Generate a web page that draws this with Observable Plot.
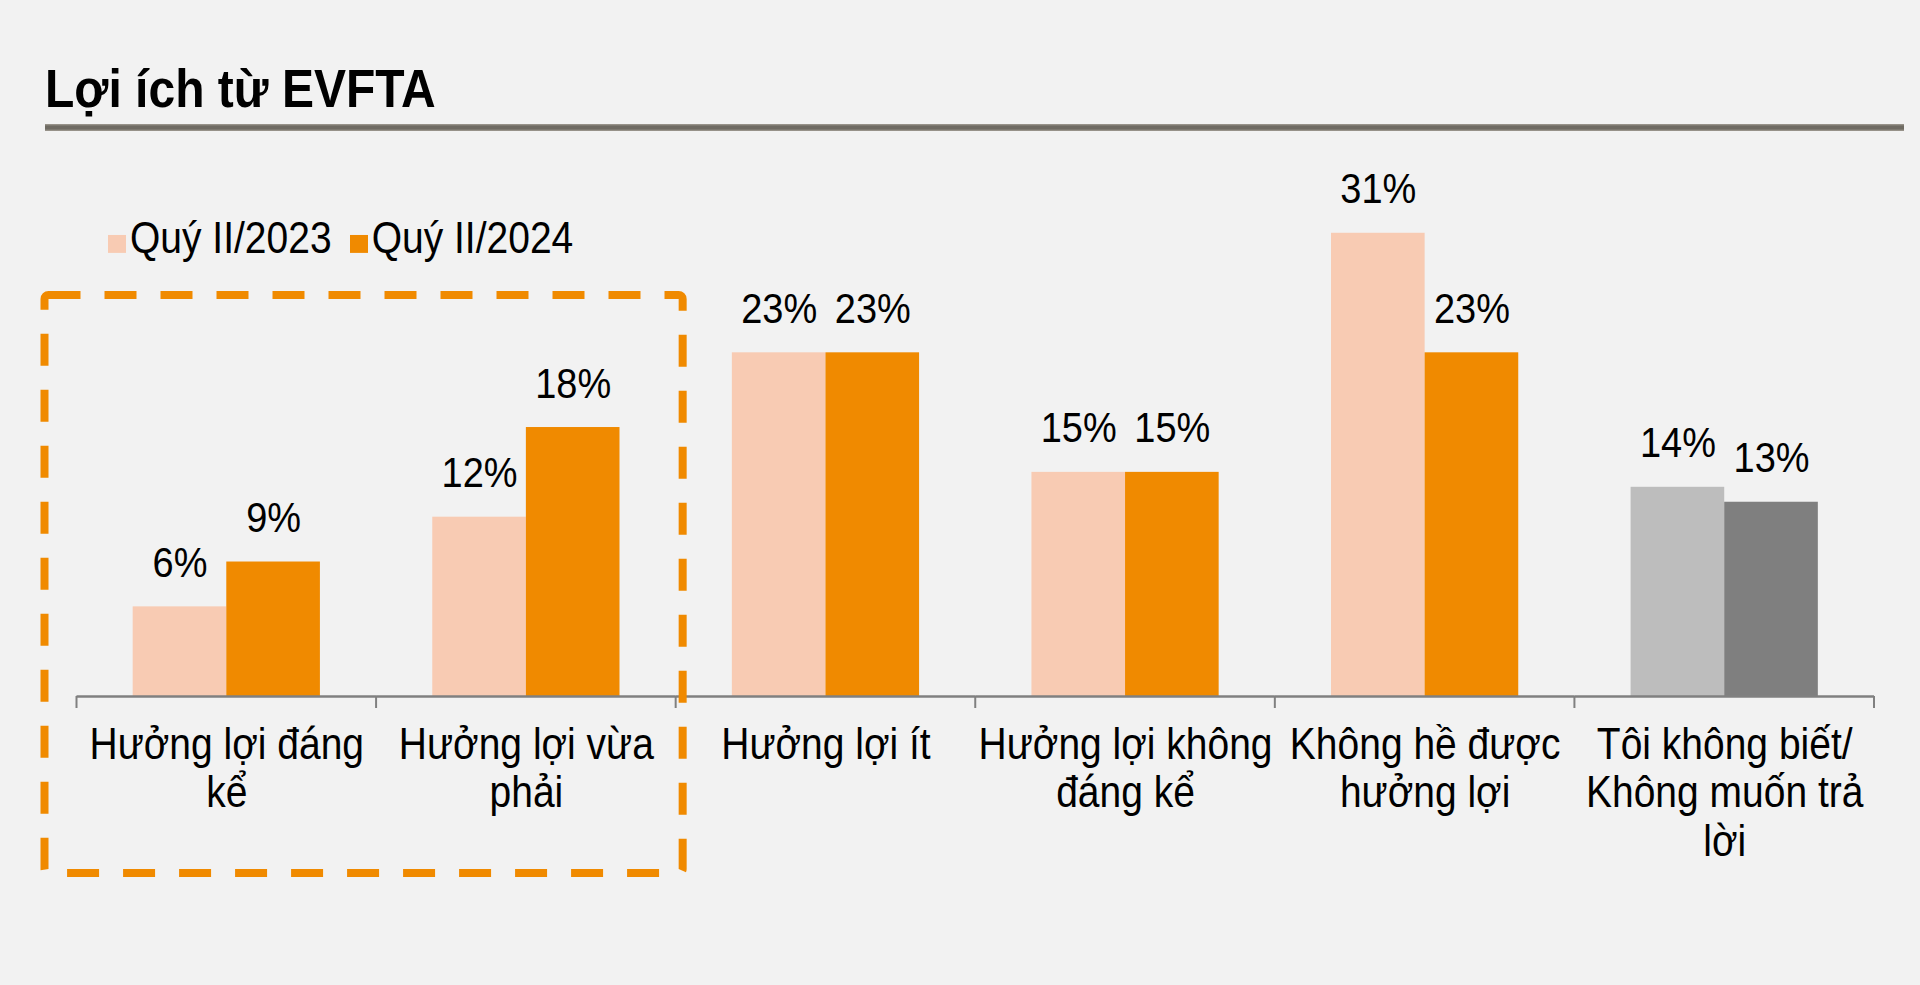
<!DOCTYPE html>
<html>
<head>
<meta charset="utf-8">
<script src="https://cdn.jsdelivr.net/npm/d3@7"></script>
<script src="https://cdn.jsdelivr.net/npm/@observablehq/plot@0.6"></script>
<style>
  html, body { margin: 0; padding: 0; background: #f2f2f2; }
  body { font-family: "Liberation Sans", Arial, sans-serif; color: #000; }
  #wrap { position: relative; width: 1920px; height: 985px; overflow: hidden; }
  #head { position: relative; height: 140px; }
  #title { position: absolute; left: 45px; top: 67px; font-size: 48px; font-weight: bold; line-height: 1; white-space: nowrap;
           transform: scaleY(1.12); transform-origin: 0 40.6px; }
  #sep { position: absolute; left: 45px; top: 124px; width: 1859px; height: 7px;
         background: linear-gradient(#a39e95, #6f6b63 30%, #6f6b63 70%, #a39e95); }
  #chart { position: relative; }
  #legend { position: absolute; left: 108px; top: 80px; font-size: 39px; line-height: 1; white-space: nowrap;
            transform: scaleY(1.12); transform-origin: 0 33.85px; }
  #legend .sw { display: inline-block; width: 18px; height: 16px; vertical-align: baseline; margin-right: 4px; }
  #legend .item + .item { margin-left: 18px; }
</style>
</head>
<body>
<div id="wrap">
  <div id="head">
    <div id="title">Lợi ích từ EVFTA</div>
    <div id="sep"></div>
  </div>
  <div id="chart"></div>
</div>
<script>
// ---- data ----
const categories = [
  "Hưởng lợi đáng\nkể",
  "Hưởng lợi vừa\nphải",
  "Hưởng lợi ít",
  "Hưởng lợi không\nđáng kể",
  "Không hề được\nhưởng lợi",
  "Tôi không biết/\nKhông muốn trả\nlời"
];
const seriesNames = ["Quý II/2023", "Quý II/2024"];
const values2023 = [6, 12, 23, 15, 31, 14];
const values2024 = [9, 18, 23, 15, 23, 13];
const highlightGroup = [0, 1]; // categories inside the dashed box

// ---- styles ----
const orangeColors = ["#f8cbb3", "#f08a00"];
const greyColors = ["#bdbdbd", "#7f7f7f"];
const greyCategory = categories[categories.length - 1];
const textStretch = 1.12; // original lettering is slightly taller than Arial

const rows = [];
categories.forEach((c, i) => {
  rows.push({cat: c, series: seriesNames[0], value: values2023[i]});
  rows.push({cat: c, series: seriesNames[1], value: values2024[i]});
});
const fillOf = d => (d.cat === greyCategory ? greyColors : orangeColors)[seriesNames.indexOf(d.series)];

const W = 1920, H = 845;
const plot = Plot.plot({
  width: W,
  height: H,
  marginLeft: 76.5,
  marginRight: 46,
  marginTop: 33,
  marginBottom: 289,
  style: {background: "transparent", fontFamily: "'Liberation Sans', Arial, sans-serif", color: "#000", overflow: "visible"},
  fx: {domain: categories, padding: 0, round: false},
  x: {domain: seriesNames, paddingInner: 0, paddingOuter: 0.6, round: false, axis: null},
  y: {domain: [0, 35], axis: null},
  marks: [
    Plot.barY(rows, {fx: "cat", x: "series", y: "value", fill: fillOf}),
    Plot.text(rows, {fx: "cat", x: "series", y: "value", text: d => d.value + "%",
      lineAnchor: "bottom", dy: -30, fontSize: 38, fill: "#000"}),
    Plot.ruleY([0], {stroke: "#808080", strokeWidth: 2.5}),
    Plot.axisFx({anchor: "bottom", tickSize: 0, tickPadding: 28, fontSize: 39, lineHeight: 1.24 / textStretch,
      tickFormat: d => d, label: null, fill: "#000"})
  ]
});
document.getElementById("chart").appendChild(plot);

const svg = d3.select(plot);
// stretch lettering vertically about its anchor
svg.selectAll("text").each(function () {
  const t = this.getAttribute("transform");
  if (t) this.setAttribute("transform", t + ` scale(1,${textStretch})`);
});

// boundary ticks and dashed highlight box, positioned from the plot's own scales
const fx = plot.scale("fx");
const ys = plot.scale("y");
const bw = fx.bandwidth;
const y0 = ys.apply(0);
const bounds = categories.map(c => fx.apply(c)).concat([fx.apply(greyCategory) + bw]);
svg.append("g").selectAll("line").data(bounds).join("line")
  .attr("x1", d => d).attr("x2", d => d)
  .attr("y1", y0).attr("y2", y0 + 12)
  .attr("stroke", "#808080").attr("stroke-width", 2);

const bx1 = fx.apply(categories[highlightGroup[0]]) - 32;
const bx2 = fx.apply(categories[highlightGroup[1]]) + bw + 7;
const by1 = y0 - 401, by2 = y0 + 177;
svg.append("rect")
  .attr("x", bx1).attr("y", by1).attr("width", bx2 - bx1).attr("height", by2 - by1)
  .attr("rx", 4).attr("fill", "none")
  .attr("stroke", "#f08a00").attr("stroke-width", 8)
  .attr("stroke-dasharray", "32 24");

// legend (overlaid in the chart area, as in the original)
const legend = document.createElement("div");
legend.id = "legend";
seriesNames.forEach((s, i) => {
  const item = document.createElement("span");
  item.className = "item";
  const sw = document.createElement("span");
  sw.className = "sw";
  sw.style.background = orangeColors[i];
  item.appendChild(sw);
  item.appendChild(document.createTextNode(s));
  legend.appendChild(item);
});
document.getElementById("chart").appendChild(legend);
</script>
</body>
</html>
